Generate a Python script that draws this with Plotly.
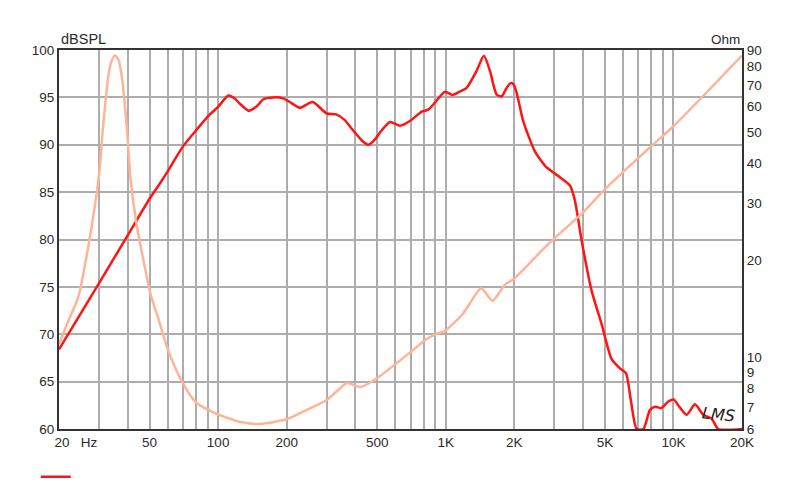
import plotly.graph_objects as go
import numpy as np

# SPL response (left axis, dB SPL)
spl_freq = [20, 30, 40, 50, 56.5, 60.4, 70, 80.5, 92, 100, 110.8, 118, 125, 136, 147, 158, 175, 193,
            210, 228.7, 260, 300, 330, 360, 392, 430, 456, 490, 514, 569, 629, 695, 784, 838, 900, 991,
            1070, 1150, 1234, 1365, 1470, 1563, 1671, 1758, 1850, 1927, 1979, 2046, 2188, 2462, 2773,
            3119, 3509, 3691, 3950, 4368, 4831, 5345, 5820, 6186, 6500, 6890, 7380, 7880, 8290, 8830,
            9490, 10050, 10490, 11420, 12430, 13520, 14700, 15730, 20000]
spl_db = [68.4, 75.4, 80.4, 84.3, 86.2, 87.3, 89.8, 91.6, 93.2, 94.0, 95.2, 94.9, 94.3, 93.6, 94.0, 94.8,
          95.0, 94.9, 94.4, 93.9, 94.5, 93.3, 93.2, 92.6, 91.5, 90.4, 90.0, 90.6, 91.3, 92.4, 92.0, 92.5,
          93.5, 93.7, 94.5, 95.6, 95.25, 95.6, 96.0, 97.8, 99.4, 97.8, 95.3, 95.1, 96.0, 96.5, 96.4, 95.5,
          92.5, 89.3, 87.6, 86.7, 85.7, 84.1, 79.9, 74.6, 71.1, 67.4, 66.4, 65.9, 63.0, 60.0, 60.0, 62.0,
          62.35, 62.2, 62.9, 63.1, 62.5, 61.5, 62.6, 61.5, 61.1, 60.0, 60.0]

# Impedance (right axis, Ohm)
imp_freq = [20, 22, 24.3, 26.9, 30, 31.2, 33.0, 34.2, 35.3, 36.5, 37.7, 39.7, 41.2, 43.8, 47, 50.5, 55,
            60.4, 69, 80, 98, 124, 151, 200, 244, 299, 335, 367, 420, 464, 530, 604, 695, 821, 900, 991,
            1192, 1430, 1605, 1816, 2004, 2838, 4010, 5000, 7880, 10000, 20000]
imp_ohm = [11.0, 13.0, 15.4, 22.1, 37.0, 51.6, 75.5, 84.0, 86.5, 84.0, 75.0, 52.0, 36.0, 26.0, 20.0, 15.7,
           13.0, 10.5, 8.48, 7.25, 6.7, 6.32, 6.22, 6.43, 6.87, 7.37, 7.9, 8.33, 8.1, 8.35, 8.9, 9.57,
           10.35, 11.4, 11.8, 12.1, 13.7, 16.4, 15.0, 16.8, 17.6, 22.6, 28.2, 33.3, 44.9, 52.2, 86.5]

grid_freqs = [20, 30, 40, 50, 60, 70, 80, 90, 100, 200, 300, 400, 500, 600, 700, 800, 900,
              1000, 2000, 3000, 4000, 5000, 6000, 7000, 8000, 9000, 10000, 20000]
label_map = {20: "&nbsp;" * 9 + "20&nbsp;&nbsp;&nbsp;Hz", 50: "50", 100: "100", 200: "200", 500: "500",
             1000: "1K", 2000: "2K", 5000: "5K", 10000: "10K", 20000: "20K"}
x_ticktext = [label_map.get(f, "") for f in grid_freqs]

spl_ticks = [60, 65, 70, 75, 80, 85, 90, 95, 100]
ohm_ticks = [6, 7, 8, 9, 10, 20, 30, 40, 50, 60, 70, 80, 90]

FONT = "Liberation Sans, Arial, sans-serif"
TXT = "#2a2a2a"
GRID = "#adadad"
AX = "#333333"

fig = go.Figure()
fig.add_trace(go.Scatter(x=imp_freq, y=imp_ohm, yaxis="y2", mode="lines",
                         line=dict(color="#fdb497", width=2.5, shape="spline", smoothing=0.6),
                         showlegend=False, hoverinfo="skip"))
fig.add_trace(go.Scatter(x=spl_freq, y=spl_db, mode="lines", name="",
                         line=dict(color="#ff1414", width=2.5, shape="spline", smoothing=0.6),
                         showlegend=True))

fig.update_layout(
    width=792, height=476,
    margin=dict(l=51, r=58, t=42, b=55, autoexpand=False),
    paper_bgcolor="white", plot_bgcolor="white",
    font=dict(family=FONT, size=13.5, color=TXT),
    xaxis=dict(type="log", range=[np.log10(20), np.log10(20000)],
               tickmode="array", tickvals=grid_freqs, ticktext=x_ticktext,
               showgrid=True, gridcolor=GRID, gridwidth=1.5,
               showline=True, linecolor=AX, linewidth=2, mirror=True,
               ticks="", zeroline=False, tickangle=0, automargin=False),
    yaxis=dict(range=[60, 100], tickmode="array", tickvals=spl_ticks,
               showgrid=True, gridcolor=GRID, gridwidth=1.5,
               showline=True, linecolor=AX, linewidth=2, mirror=True,
               ticks="", zeroline=False, automargin=False),
    yaxis2=dict(type="log", range=[np.log10(6), np.log10(90)], overlaying="y", side="right",
                tickmode="array", tickvals=ohm_ticks, ticktext=[str(v) for v in ohm_ticks],
                showgrid=False, showline=True, linecolor=AX, linewidth=2,
                ticks="", zeroline=False, automargin=False),
    legend=dict(orientation="h", xref="container", yref="container",
                x=0.035, xanchor="left", y=0.015, yanchor="middle",
                bgcolor="rgba(0,0,0,0)", itemwidth=30),
    annotations=[
        dict(text="dBSPL", xref="paper", yref="paper", x=0, y=1, xanchor="left", yanchor="bottom",
             yshift=1, showarrow=False, font=dict(size=14.5, color=TXT)),
        dict(text="Ohm", xref="paper", yref="paper", x=1, y=1, xanchor="right", yanchor="bottom",
             yshift=1, showarrow=False, font=dict(size=13.5, color=TXT)),
        dict(text="<i>LMS</i>", xref="paper", yref="paper", x=0.966, y=0.037, xanchor="center",
             yanchor="middle", showarrow=False, textangle=6,
             font=dict(size=16, color="#222222", family="DejaVu Sans")),
    ],
)

fig.write_html("out.html")
